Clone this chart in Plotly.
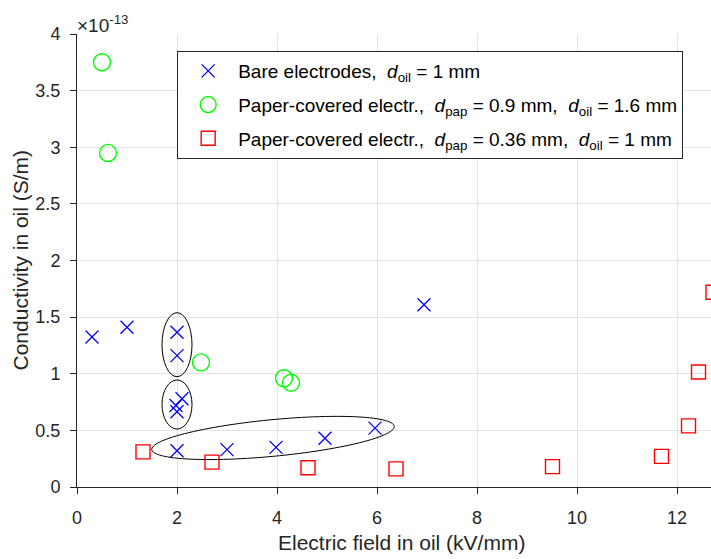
import numpy as np
import plotly.graph_objects as go

# Data (conductivity in units of 1e-13 S/m)
bare_x = [0.3, 1.0, 2.0, 2.0, 2.1, 1.98, 2.0, 2.0, 3.0, 3.98, 4.96, 5.96, 6.94]
bare_y = [1.325, 1.41, 1.366, 1.16, 0.78, 0.72, 0.665, 0.32, 0.33, 0.35, 0.43, 0.52, 1.61]

pap09_x = [0.5, 0.62, 2.48, 4.14, 4.28]
pap09_y = [3.75, 2.95, 1.10, 0.96, 0.92]

pap036_x = [1.32, 2.7, 4.62, 6.38, 9.51, 11.69, 12.23, 12.43, 12.72]
pap036_y = [0.31, 0.22, 0.17, 0.16, 0.18, 0.27, 0.54, 1.015, 1.72]

x_ticks = [0, 2, 4, 6, 8, 10, 12]
y_ticks = [0, 0.5, 1, 1.5, 2, 2.5, 3, 3.5, 4]
y_tick_labels = ["0", "0.5", "1", "1.5", "2", "2.5", "3", "3.5", "4"]

FONT = "Liberation Sans, Arial, sans-serif"
AX = "#262626"

fig = go.Figure()
fig.add_trace(go.Scatter(
    x=bare_x, y=bare_y, mode="markers", legendgroup="a",
    name="Bare electrodes,  <i>d</i><sub>oil</sub> = 1 mm",
    marker=dict(symbol="x-thin", size=13, line=dict(color="#0000ff", width=1.3), color="#0000ff"),
))
fig.add_trace(go.Scatter(
    x=pap09_x, y=pap09_y, mode="markers", legendgroup="b",
    name="Paper-covered electr.,  <i>d</i><sub>pap</sub> = 0.9 mm,  <i>d</i><sub>oil</sub> = 1.6 mm",
    marker=dict(symbol="circle-open", size=17, line=dict(color="#00ff00", width=1.4), color="#00ff00"),
))
fig.add_trace(go.Scatter(
    x=pap036_x, y=pap036_y, mode="markers", legendgroup="c",
    name="Paper-covered electr.,  <i>d</i><sub>pap</sub> = 0.36 mm,  <i>d</i><sub>oil</sub> = 1 mm",
    marker=dict(symbol="square-open", size=14, line=dict(color="#ff0000", width=1.4), color="#ff0000"),
))

# Ellipses highlighting groups
fig.add_shape(type="circle", xref="x", yref="y", x0=1.7, x1=2.3, y0=0.974, y1=1.539,
              line=dict(color="black", width=1))
fig.add_shape(type="circle", xref="x", yref="y", x0=1.7, x1=2.3, y0=0.512, y1=0.945,
              line=dict(color="black", width=1))

# tilted ellipse (semi-axes in screen px converted to data units)
cx, cy = 3.92, 0.433
a_px, b_px, th = 121.8, 18.3, np.deg2rad(5.48)
sx, sy = 50.0, 113.25
t = np.linspace(0, 2 * np.pi, 120)
px = a_px * np.cos(t) * np.cos(th) - b_px * np.sin(t) * np.sin(th)
py = a_px * np.cos(t) * np.sin(th) + b_px * np.sin(t) * np.cos(th)
ex = cx + px / sx
ey = cy + py / sy
path = "M " + " L ".join(f"{xx:.4f},{yy:.4f}" for xx, yy in zip(ex, ey)) + " Z"
fig.add_shape(type="path", xref="x", yref="y", path=path, line=dict(color="black", width=1))

fig.add_annotation(xref="paper", yref="paper", x=0.0, y=1.0, xanchor="left", yanchor="bottom",
                   text="×10<sup>-13</sup>", showarrow=False, xshift=-2, yshift=-4,
                   font=dict(family=FONT, size=19, color=AX))

# axis titles
fig.add_annotation(xref="paper", yref="paper", x=0.5126, y=-0.1236, xanchor="center",
                   yanchor="middle", showarrow=False, text="Electric field in oil (kV/mm)",
                   font=dict(family=FONT, size=21, color=AX))
fig.add_annotation(xref="paper", yref="paper", x=-0.0899, y=0.5, xanchor="center",
                   yanchor="middle", showarrow=False, textangle=-90,
                   text="Conductivity in oil (S/m)",
                   font=dict(family=FONT, size=21, color=AX))

fig.update_layout(
    width=711, height=559,
    margin=dict(l=77, r=0, t=34, b=72),
    paper_bgcolor="white", plot_bgcolor="white",
    font=dict(family=FONT, size=18, color=AX),
    showlegend=True,
    legend=dict(x=0.158, y=0.9625, xanchor="left", yanchor="top",
                bordercolor=AX, borderwidth=1, bgcolor="white",
                tracegroupgap=6, itemwidth=50,
                font=dict(family=FONT, size=19, color="black")),
    xaxis=dict(range=[0, 12.68], tickvals=x_ticks, showgrid=True, gridcolor="#e3e3e3",
               showline=True, linecolor=AX, linewidth=1, ticks="outside", ticklen=6,
               tickcolor=AX, zeroline=False, ticklabelstandoff=8,
               tickfont=dict(size=18)),
    yaxis=dict(range=[0, 4], tickvals=y_ticks, ticktext=y_tick_labels, showgrid=True,
               gridcolor="#e3e3e3", showline=True, linecolor=AX, linewidth=1,
               ticks="outside", ticklen=6, tickcolor=AX, zeroline=False,
               ticklabelstandoff=6, tickfont=dict(size=18)),
)

fig.write_html("out.html")
